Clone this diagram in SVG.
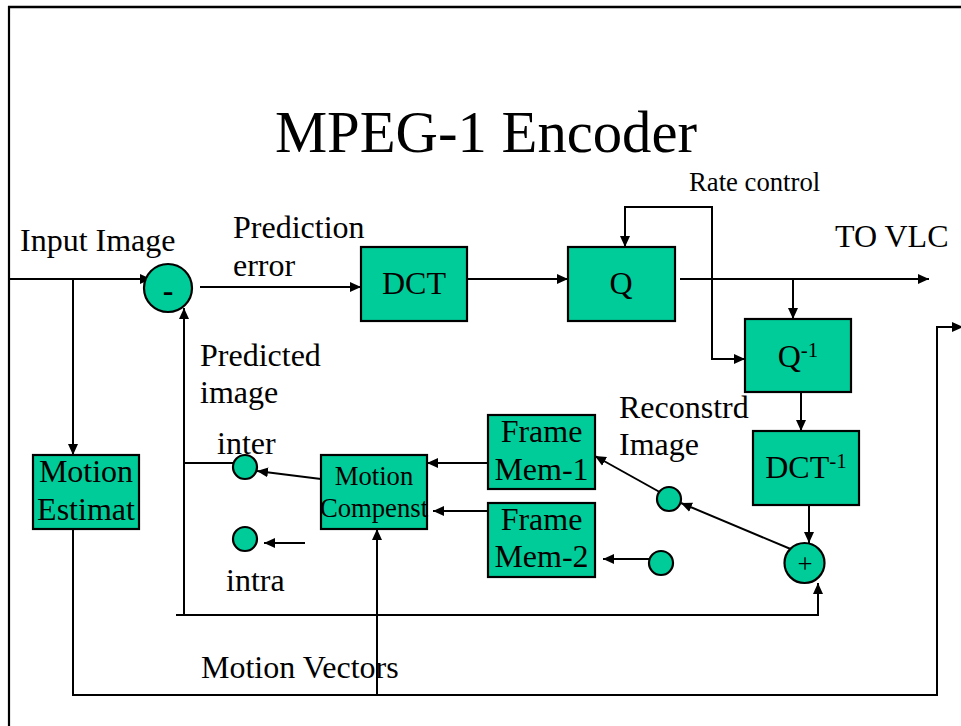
<svg xmlns="http://www.w3.org/2000/svg" width="961" height="726" viewBox="0 0 961 726">
<style>
  .box { fill: #00CC99; stroke: #000; stroke-width: 2.2; }
  .ln { fill: none; stroke: #000; stroke-width: 2; }
  .arr { marker-end: url(#ah); }
  .t { font-family: "Liberation Serif", "Times New Roman", serif; font-size: 32px; fill: #000; }
  .s { font-family: "Liberation Serif", "Times New Roman", serif; font-size: 26.7px; fill: #000; }
  .c { text-anchor: middle; }
</style>
<defs>
  <marker id="ah" markerUnits="userSpaceOnUse" markerWidth="12" markerHeight="11" refX="11" refY="5.5" orient="auto-start-reverse" viewBox="0 0 12 11">
    <path d="M0,0.5 L11,5.5 L0,10.5 z" fill="#000"/>
  </marker>
</defs>
<rect width="961" height="726" fill="#fff"/>

<g id="frame">
  <line x1="8" y1="7" x2="961" y2="7" stroke="#000" stroke-width="2.5"/>
  <line x1="9" y1="6" x2="9" y2="726" stroke="#000" stroke-width="2.2"/>
</g>

<g id="title">
  <text class="t c" x="486" y="152" style="font-size:58.7px">MPEG-1 Encoder</text>
</g>

<g id="connectors">
  <line class="ln arr" x1="9" y1="279" x2="151" y2="279"/>
  <line class="ln arr" x1="73" y1="279" x2="73" y2="455"/>
  <line class="ln arr" x1="200" y1="287" x2="361" y2="287"/>
  <line class="ln arr" x1="467" y1="279" x2="568" y2="279"/>
  <line class="ln arr" x1="680" y1="279" x2="929" y2="279"/>
  <line class="ln arr" x1="793" y1="279" x2="793" y2="319"/>
  <polyline class="ln" points="625,247 625,207 712,207 712,359 745,359" marker-start="url(#ah)" marker-end="url(#ah)"/>
  <line class="ln arr" x1="801" y1="392" x2="801" y2="431"/>
  <line class="ln arr" x1="809" y1="505" x2="809" y2="543"/>
  <polyline class="ln arr" points="176,615 818,615 818,583"/>
  <line class="ln arr" x1="184" y1="615" x2="184" y2="308"/>
  <line class="ln" x1="184" y1="463" x2="234" y2="463"/>
  <line class="ln arr" x1="321" y1="479" x2="257" y2="471"/>
  <line class="ln arr" x1="305" y1="543" x2="264" y2="543"/>
  <line class="ln arr" x1="488" y1="463" x2="427" y2="463"/>
  <line class="ln arr" x1="488" y1="511" x2="433" y2="511"/>
  <line class="ln arr" x1="665" y1="495" x2="595" y2="456"/>
  <line class="ln arr" x1="793" y1="550" x2="681" y2="503"/>
  <line class="ln arr" x1="649" y1="559" x2="603" y2="559"/>
  <polyline class="ln arr" points="73,529 73,695 937,695 937,327 963,327"/>
  <line class="ln arr" x1="377" y1="695" x2="377" y2="529"/>
</g>

<g id="labels">
  <text class="t" x="20" y="251">Input Image</text>
  <text class="t" x="233" y="238">Prediction</text>
  <text class="t" x="233" y="276">error</text>
  <text class="t" x="200" y="366">Predicted</text>
  <text class="t" x="200" y="403">image</text>
  <text class="t" x="217" y="454">inter</text>
  <text class="t" x="226" y="591">intra</text>
  <text class="t" x="201" y="678">Motion Vectors</text>
  <text class="t" x="835" y="247">TO VLC</text>
  <text class="s" x="689" y="191">Rate control</text>
  <text class="t" x="619" y="418">Reconstrd</text>
  <text class="t" x="619" y="455">Image</text>
</g>

<g id="subtract">
  <circle class="box" cx="168" cy="288" r="24"/>
  <text class="t c" x="168" y="301" font-weight="bold">-</text>
</g>

<g id="dct">
  <rect class="box" x="361" y="247" width="106" height="74"/>
  <text class="t c" x="414" y="294">DCT</text>
</g>

<g id="quant">
  <rect class="box" x="568" y="247" width="107" height="74"/>
  <text class="t c" x="621" y="294">Q</text>
</g>

<g id="iquant">
  <rect class="box" x="745" y="319" width="106" height="73"/>
  <text class="t c" x="798" y="367">Q<tspan font-size="21" dy="-10">-1</tspan></text>
</g>

<g id="idct">
  <rect class="box" x="753" y="431" width="106" height="74"/>
  <text class="t c" x="806" y="478">DCT<tspan font-size="21" dy="-10">-1</tspan></text>
</g>

<g id="add">
  <circle class="box" cx="804.5" cy="563" r="20"/>
  <text class="s c" x="805" y="573">+</text>
</g>

<g id="frame-mem-1">
  <rect class="box" x="488" y="415" width="107" height="74"/>
  <text class="t c" x="541.5" y="442">Frame</text>
  <text class="t c" x="541.5" y="480">Mem-1</text>
</g>

<g id="frame-mem-2">
  <rect class="box" x="488" y="503" width="107" height="74"/>
  <text class="t c" x="541.5" y="530">Frame</text>
  <text class="t c" x="541.5" y="567">Mem-2</text>
</g>

<g id="switch-recon">
  <circle class="box" cx="669" cy="499" r="12"/>
</g>

<g id="switch-mem2">
  <circle class="box" cx="661" cy="563" r="12"/>
</g>

<g id="switch-inter">
  <circle class="box" cx="245" cy="467" r="12"/>
</g>

<g id="switch-intra">
  <circle class="box" cx="245" cy="539" r="12"/>
</g>

<g id="motion-compensation">
  <rect class="box" x="321" y="455" width="106" height="74"/>
  <text class="s c" x="374" y="485">Motion</text>
  <text class="s c" x="374" y="517">Compenst</text>
</g>

<g id="motion-estimation">
  <rect class="box" x="33" y="455" width="106" height="74"/>
  <text class="t c" x="86" y="482">Motion</text>
  <text class="t c" x="86" y="520">Estimat</text>
</g>
</svg>
